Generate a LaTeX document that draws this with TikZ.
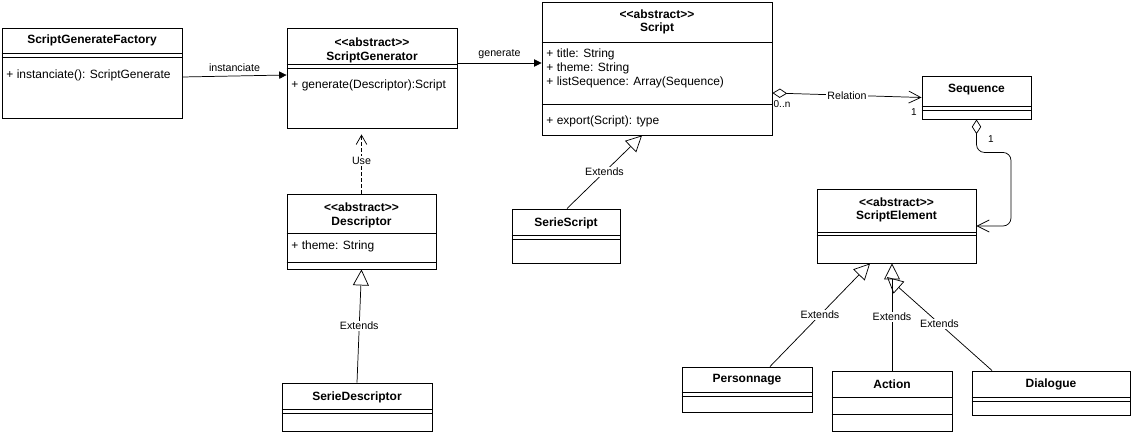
\documentclass[tikz,border=0pt]{standalone}
\usepackage{fontspec}
\setmainfont{Liberation Sans}
\usetikzlibrary{arrows.meta,fit,positioning}

\tikzset{
  umlbox/.style={draw, inner sep=0pt},
  ctitle/.style={font=\bfseries\fontsize{9}{10.2}\selectfont, align=center, inner sep=0pt},
  cattr/.style={font=\fontsize{9}{10.3}\selectfont, align=left, anchor=west, inner sep=0pt},
  lbl/.style={font=\fontsize{8}{9}\selectfont, fill=white, inner sep=1pt},
  mult/.style={font=\fontsize{7.5}{9}\selectfont, inner sep=0pt},
  conn/.style={line width=0.55pt},
  callarrow/.style={conn, -{Triangle[length=5.5pt,width=5.5pt]}},
  extends/.style={conn, -{Triangle[open,length=12pt,width=12pt]}},
  aggr/.style={conn, {Diamond[open,length=11pt,width=7pt]}-{Straight Barb[length=9pt,width=9pt]}},
  usedep/.style={conn, dash pattern=on 2.5pt off 2pt, -{Straight Barb[length=7pt,width=8pt]}}
}

\begin{document}
\begin{tikzpicture}[x=0.75pt, y=-0.75pt, line width=0.7pt]
    \useasboundingbox (0,0) rectangle (1134,434);

    % ScriptGenerateFactory
    \node[umlbox, fit={(2,28) (182,118)}] (fact) {};
    \node[ctitle] at (92,40) {ScriptGenerateFactory};
    \draw (fact.west |- 0,53) -- (fact.east |- 0,53);
    \draw (fact.west |- 0,57) -- (fact.east |- 0,57);
    \node[cattr] at (6,75) {+ instanciate(): ScriptGenerate};

    % ScriptGenerator
    \node[umlbox, fit={(287,28) (457,128)}] (gen) {};
    \node[ctitle] at (372,50.5) {<{}<abstract>{}>\\ScriptGenerator};
    \draw (gen.west |- 0,64.5) -- (gen.east |- 0,64.5);
    \draw (gen.west |- 0,68.5) -- (gen.east |- 0,68.5);
    \node[cattr] at (291,85) {+ generate(Descriptor):Script};

    % Script
    \node[umlbox, fit={(542,2) (772,135)}] (script) {};
    \node[ctitle] at (657,22) {<{}<abstract>{}>\\Script};
    \draw (script.west |- 0,42) -- (script.east |- 0,42);
    \node[cattr] at (546,68.3) {+ title: String\\+ theme: String\\+ listSequence: Array(Sequence)};
    \draw (script.west |- 0,104.5) -- (script.east |- 0,104.5);
    \node[cattr] at (546,121.5) {+ export(Script): type};

    % Sequence
    \node[umlbox, fit={(922,76) (1031,119)}] (seq) {};
    \node[ctitle] at (976.5,90) {Sequence};
    \draw (seq.west |- 0,106) -- (seq.east |- 0,106);
    \draw (seq.west |- 0,110) -- (seq.east |- 0,110);

    % ScriptElement
    \node[umlbox, fit={(817,189) (976,263)}] (selem) {};
    \node[ctitle] at (896.5,210) {<{}<abstract>{}>\\ScriptElement};
    \draw (selem.west |- 0,232) -- (selem.east |- 0,232);
    \draw (selem.west |- 0,235.5) -- (selem.east |- 0,235.5);

    % Descriptor
    \node[umlbox, fit={(287,194) (436,269)}] (desc) {};
    \node[ctitle] at (361.5,215.5) {<{}<abstract>{}>\\Descriptor};
    \draw (desc.west |- 0,233.5) -- (desc.east |- 0,233.5);
    \node[cattr] at (291,246.5) {+ theme: String};
    \draw (desc.west |- 0,262.5) -- (desc.east |- 0,262.5);

    % SerieDescriptor
    \node[umlbox, fit={(282,383) (432,431)}] (sdesc) {};
    \node[ctitle] at (357,397) {SerieDescriptor};
    \draw (sdesc.west |- 0,409.5) -- (sdesc.east |- 0,409.5);
    \draw (sdesc.west |- 0,413.5) -- (sdesc.east |- 0,413.5);

    % SerieScript
    \node[umlbox, fit={(512,209) (620,263)}] (sscript) {};
    \node[ctitle] at (566,223) {SerieScript};
    \draw (sscript.west |- 0,235.5) -- (sscript.east |- 0,235.5);
    \draw (sscript.west |- 0,239) -- (sscript.east |- 0,239);

    % Personnage, Action, Dialogue
    \node[umlbox, fit={(682,367) (812,412)}] (pers) {};
    \node[ctitle] at (747,380) {Personnage};
    \draw (pers.west |- 0,392) -- (pers.east |- 0,392);
    \draw (pers.west |- 0,396.5) -- (pers.east |- 0,396.5);

    \node[umlbox, fit={(832,371) (952,431)}] (act) {};
    \node[ctitle] at (892,384) {Action};
    \draw (act.west |- 0,397) -- (act.east |- 0,397);
    \draw (act.west |- 0,414) -- (act.east |- 0,414);

    \node[umlbox, fit={(972,371) (1130,415)}] (dial) {};
    \node[ctitle] at (1051,384) {Dialogue};
    \draw (dial.west |- 0,397) -- (dial.east |- 0,397);
    \draw (dial.west |- 0,401.5) -- (dial.east |- 0,401.5);

    % Associations
    \draw[callarrow] (fact.east |- 0,77) -- (gen.west |- 0,75)
        node[lbl, fill=none, midway, above=2pt] {instanciate};
    \draw[callarrow] (gen.east |- 0,63) -- (script.west |- 0,63)
        node[lbl, fill=none, midway, above=2pt] {generate};
    \draw[aggr] (script.east |- 0,93) -- (seq.west)
        node[lbl, midway] {Relation};
    \node[mult] (relMany) at (782,104) {0..n};
    \node[mult] (relOne) at (914,112) {1};
    \draw[aggr, rounded corners=6pt] (seq.south) -- ++(0,33) -| (1011,226)
        -- (selem.east |- 0,226);
    \node[mult] (seqOne) at (991,139) {1};
    \draw[usedep, shorten >=4.5pt] (desc.north) -- (gen.south -| desc.north)
        node[lbl, midway] {Use};

    % Inheritance
    \coordinate (dialTip) at (887,277);
    \draw[extends] (sdesc.north) -- (desc.south) node[lbl, midway] {Extends};
    \draw[extends] (sscript.north -| 567,0) -- (script.south -| 642,0)
        node[lbl, midway] {Extends};
    \draw[extends] (pers.north -| 770,0) -- (selem.south -| 870,0)
        node[lbl, midway] {Extends};
    \draw[extends] (act.north) -- (act.north |- selem.south)
        node[lbl, midway] {Extends};
    \draw[extends] (dial.north -| 992,0) -- (dialTip)
        node[lbl, midway] {Extends};

\end{tikzpicture}
\end{document}
